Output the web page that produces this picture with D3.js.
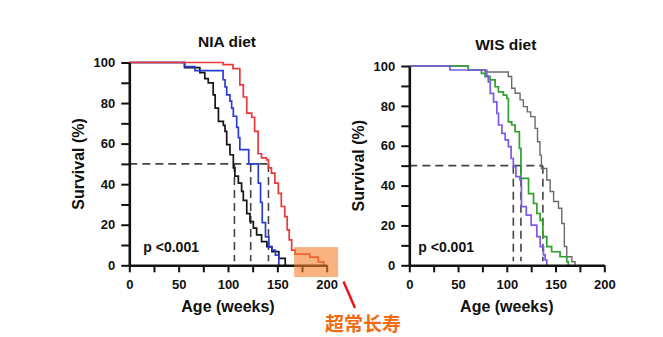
<!DOCTYPE html>
<html>
<head>
<meta charset="utf-8">
<script src="https://cdn.jsdelivr.net/npm/d3@7"></script>
<style>
  body { margin: 0; background: #fff; }
  svg text { font-family: "Liberation Sans", Arial, sans-serif; font-weight: bold; }
</style>
</head>
<body>
<svg id="chart" width="663" height="337"></svg>
<script>
'use strict';

// survival curves, [week, % alive] steps
const niaBlack = [[0,100],[56,97.5],[71.5,95],[76.5,92],[80,90],[85,84],[87,77.5],[90.3,71],[95.3,69],[97,66],[98.7,59.5],[102,54.5],[105.4,48],[107,44],[110.5,40.5],[113.8,36.5],[115.5,32],[119,25.5],[122.3,21.5],[125.7,18.3],[129,15],[134,11.7],[139.4,9.2],[144.5,6.7],[151.5,3.4],[158,0]];
const niaBlue = [[0,100],[56,98],[66.5,96],[95,91.5],[97,88],[98.7,84],[102,81],[103.7,77.5],[105.4,73.5],[108.8,68],[110.5,63],[112,57],[121,50],[130.7,40.5],[133,31],[134.7,21],[138,14],[141.4,9],[144.8,7.5],[148,5],[151.5,0]];
const niaRed = [[0,100],[95,99],[105,97],[112,89],[115.5,83],[119,75],[124,73],[127,66],[130.5,55],[134,53],[139,52],[141,48],[144,45.5],[147.5,40.5],[151,35.5],[154,29],[157.5,24],[160,17.5],[162,12.5],[164.5,7.5],[168,5.5],[183,4],[191.5,1.7],[197,0]];
const niaMedians = [106.5, 123, 141];

const wisPurple = [[0,100],[41.7,98],[79.5,95],[81,92],[83,86.3],[86.4,82],[89.8,76.2],[91.5,70.4],[95,66.2],[98.3,62.9],[101.6,59.5],[104.4,53.6],[106.7,49.5],[109.4,44.5],[113.5,42.8],[115,29.4],[120,25.2],[125,20.2],[130.8,14.4],[134.2,9.4],[137.6,5.2],[139.3,2.7],[141,0]];
const wisGreen = [[0,100],[60.5,98],[74,96.3],[77.7,94.7],[82.8,93],[88,89.6],[91.4,87],[96.5,85.4],[100,83.7],[101.6,72],[105,70.4],[108.5,67],[112.9,58.7],[114.5,43.6],[122.3,36],[127.4,31],[130.8,26],[134.2,22.5],[137,14.4],[141,9.4],[146,6.8],[154.6,4.3],[161.5,1.8],[163,0]];
const wisGray = [[0,100],[60.5,98],[77.7,97],[101.5,94.7],[105,88.8],[108.5,86.3],[113.6,83],[117,79.6],[121,77],[124.5,74.6],[129,68.7],[131.5,62],[134,55.3],[135.5,48.6],[141,42.8],[144.5,37],[148,32],[153,28.6],[156.4,21],[159,9.4],[161.5,4.3],[166.7,1.8],[170,0]];
const wisMedians = [106.7, 114.5, 137];

const xTicks = [0, 25, 50, 75, 100, 125, 150, 175, 200];
const yTicks = [0, 10, 20, 30, 40, 50, 60, 70, 80, 90, 100];
const pText = 'p <0.001';

const svg = d3.select('#chart');

function drawPanel(opt) {
    const x = d3.scaleLinear().domain([0, 200]).range([opt.left, opt.right]);
    const y = d3.scaleLinear().domain([0, 100]).range([opt.bottom, opt.top]);
    const g = svg.append('g');

    const line = d3.line()
        .x(d => x(d[0]))
        .y(d => y(d[1]))
        .curve(d3.curveStepAfter);

    // median guides
    const dash = g.append('g')
        .attr('stroke', '#444')
        .attr('stroke-width', 1.6)
        .attr('stroke-dasharray', '8,5')
        .attr('fill', 'none');
    dash.append('line')
        .attr('x1', x(0)).attr('x2', x(d3.max(opt.medians)))
        .attr('y1', y(50)).attr('y2', y(50));
    dash.selectAll('.vm')
        .data(opt.medians)
        .enter().append('line')
        .attr('class', 'vm')
        .attr('x1', d => x(d)).attr('x2', d => x(d))
        .attr('y1', y(50)).attr('y2', y(2));

    opt.series.forEach(s => {
        g.append('path')
            .datum(s.data)
            .attr('fill', 'none')
            .attr('stroke', s.color)
            .attr('stroke-width', s.width || 1.7)
            .attr('d', line);
    });

    const xAxis = g.append('g')
        .attr('transform', `translate(0,${opt.bottom})`)
        .call(d3.axisBottom(x)
            .tickValues(xTicks)
            .tickFormat(d => d % 50 === 0 ? d : '')
            .tickSize(7)
            .tickSizeOuter(0)
            .tickPadding(7));
    const yAxis = g.append('g')
        .attr('transform', `translate(${opt.left},0)`)
        .call(d3.axisLeft(y)
            .tickValues(yTicks)
            .tickFormat(d => d % 20 === 0 ? d : '')
            .tickSize(8)
            .tickSizeOuter(0)
            .tickPadding(6));
    [xAxis, yAxis].forEach(a => {
        a.select('.domain').attr('stroke', '#111').attr('stroke-width', 2.6);
        a.selectAll('.tick line').attr('stroke', '#111').attr('stroke-width', 2);
        a.selectAll('.tick text')
            .style('font-size', '13px')
            .style('font-weight', 'bold')
            .style('fill', '#111');
    });

    g.append('text')
        .attr('x', (opt.left + opt.right) / 2 - 1)
        .attr('y', opt.titleY)
        .attr('text-anchor', 'middle')
        .style('font-size', '15.5px')
        .style('fill', '#111')
        .text(opt.title);

    g.append('text')
        .attr('transform', `translate(${opt.left - 51},${(opt.top + opt.bottom) / 2})rotate(-90)`)
        .attr('text-anchor', 'middle')
        .attr('dy', '0.35em')
        .style('font-size', '16px')
        .style('fill', '#111')
        .text('Survival (%)');

    g.append('text')
        .attr('x', (opt.left + opt.right) / 2)
        .attr('y', 312)
        .attr('text-anchor', 'middle')
        .style('font-size', '16px')
        .style('fill', '#111')
        .text('Age (weeks)');

    g.append('text')
        .attr('x', opt.left + opt.pOffset)
        .attr('y', opt.bottom - 13.5)
        .style('font-size', '14px')
        .style('fill', '#111')
        .text(pText);

    return { x, y };
}

const nia = drawPanel({
    left: 129.3, right: 326.7, top: 62.5, bottom: 265.3,
    title: 'NIA diet', titleY: 47,
    medians: niaMedians, pOffset: 14,
    series: [
        { data: niaBlack, color: '#151515' },
        { data: niaBlue, color: '#2a3fd0' },
        { data: niaRed, color: '#e83a3a' }
    ]
});

drawPanel({
    left: 409.3, right: 604.3, top: 66, bottom: 265.3,
    title: 'WIS diet', titleY: 50,
    medians: wisMedians, pOffset: 9,
    series: [
        { data: wisGray, color: '#6a6a6a', width: 1.4 },
        { data: wisGreen, color: '#2ea02e' },
        { data: wisPurple, color: '#7d5ae6' }
    ]
});

// highlight of the long-lived tail
svg.append('rect')
    .attr('x', nia.x(167)).attr('y', nia.y(9))
    .attr('width', 44).attr('height', 30)
    .attr('fill', '#f4812c')
    .attr('fill-opacity', 0.6);

svg.append('line')
    .attr('x1', 343.5).attr('y1', 281.5)
    .attr('x2', 355).attr('y2', 308)
    .attr('stroke', '#f01010')
    .attr('stroke-width', 2.4);

svg.append('text')
    .attr('x', 325)
    .attr('y', 331)
    .style('font-family', '"Noto Sans CJK SC", sans-serif')
    .style('font-size', '19px')
    .style('font-weight', 'bold')
    .style('fill', '#f26a12')
    .text('超常长寿');
</script>
</body>
</html>
